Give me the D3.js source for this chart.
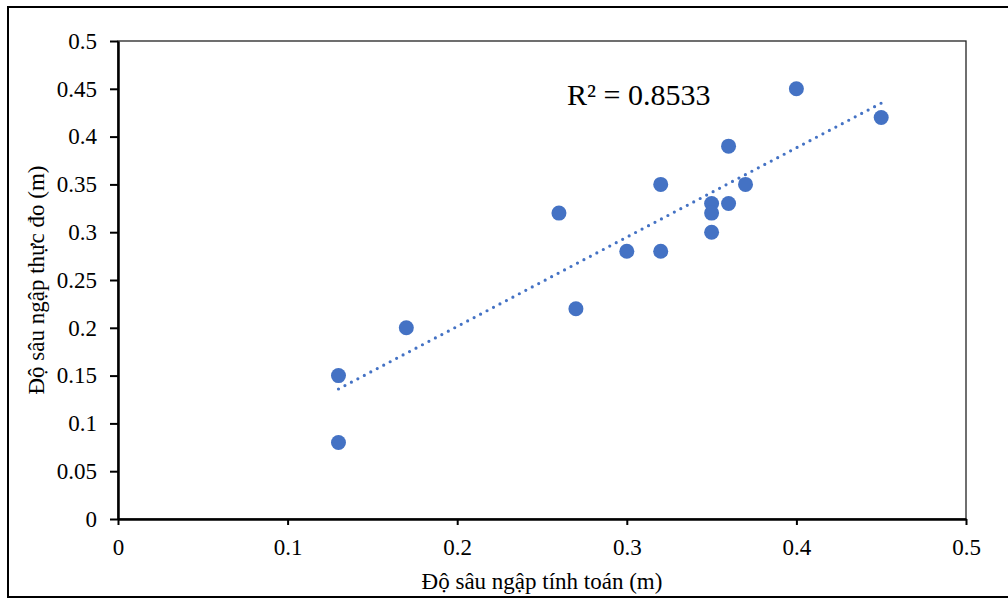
<!DOCTYPE html>
<html><head><meta charset="utf-8">
<script src="https://cdn.jsdelivr.net/npm/d3@7"></script>
<style>body{margin:0;background:#fff;} svg{display:block;}</style>
</head><body>
<svg id="c" width="1008" height="599"></svg>
<script>
const xValues = [0.13, 0.13, 0.17, 0.26, 0.27, 0.30, 0.32, 0.32, 0.35, 0.35, 0.35, 0.36, 0.36, 0.37, 0.40, 0.45];
const yValues = [0.15, 0.08, 0.20, 0.32, 0.22, 0.28, 0.35, 0.28, 0.33, 0.32, 0.30, 0.39, 0.33, 0.35, 0.45, 0.42];
const trendX = [0.13, 0.45];
const trendY = [0.136, 0.435];
const xTicks = [0, 0.1, 0.2, 0.3, 0.4, 0.5];
const yTicks = [0, 0.05, 0.1, 0.15, 0.2, 0.25, 0.3, 0.35, 0.4, 0.45, 0.5];
const xTitle = "Độ sâu ngập tính toán (m)";
const yTitle = "Độ sâu ngập thực đo (m)";
const r2Label = "R² = 0.8533";

const svg = d3.select("#c");
const font = "'Liberation Serif','Times New Roman',serif";
const pL = 118, pR = 966, pT = 41, pB = 519;
const x = d3.scaleLinear().domain([0, 0.5]).range([pL, pR]);
const y = d3.scaleLinear().domain([0, 0.5]).range([pB, pT]);

// outer frame
svg.append("rect").attr("x", 8).attr("y", 7).attr("width", 1010).attr("height", 590)
  .attr("fill", "none").attr("stroke", "#000").attr("stroke-width", 2);

// plot box
svg.append("rect").attr("x", pL).attr("y", pT).attr("width", pR - pL).attr("height", pB - pT)
  .attr("fill", "none").attr("stroke", "#222").attr("stroke-width", 1.3);

const fmt = d => d3.format("")(+d.toFixed(2));
const xAxis = svg.append("g").attr("transform", `translate(0,${pB})`)
  .call(d3.axisBottom(x).tickValues(xTicks).tickSize(6).tickSizeOuter(0).tickPadding(14).tickFormat(fmt));
const yAxis = svg.append("g").attr("transform", `translate(${pL},0)`)
  .call(d3.axisLeft(y).tickValues(yTicks).tickSize(8).tickSizeOuter(0).tickPadding(13).tickFormat(fmt));
[xAxis, yAxis].forEach(a => {
  a.select(".domain").attr("stroke", "#000").attr("stroke-width", 2.5);
  a.selectAll(".tick line").attr("stroke", "#000").attr("stroke-width", 2);
  a.selectAll("text").attr("font-family", font).attr("font-size", 23).attr("fill", "#000");
});

// trendline
svg.append("line")
  .attr("x1", x(trendX[0])).attr("y1", y(trendY[0]))
  .attr("x2", x(trendX[1])).attr("y2", y(trendY[1]))
  .attr("stroke", "#4472C4").attr("stroke-width", 3.2)
  .attr("stroke-linecap", "round").attr("stroke-dasharray", "0,7.3");

// points
svg.append("g").selectAll("circle").data(xValues.map((v, i) => [v, yValues[i]])).join("circle")
  .attr("cx", d => x(d[0])).attr("cy", d => y(d[1])).attr("r", 7.5)
  .attr("fill", "#4472C4");

// labels
svg.append("text").attr("x", 567).attr("y", 105).attr("font-family", font).attr("font-size", 30)
  .attr("fill", "#000").text(r2Label);
svg.append("text").attr("x", (pL + pR) / 2).attr("y", 589).attr("text-anchor", "middle")
  .attr("font-family", font).attr("font-size", 23).attr("fill", "#000").text(xTitle);
svg.append("text").attr("transform", `translate(44,${(pT + pB) / 2}) rotate(-90)`)
  .attr("text-anchor", "middle").attr("font-family", font).attr("font-size", 23)
  .attr("fill", "#000").text(yTitle);
</script>
</body></html>
